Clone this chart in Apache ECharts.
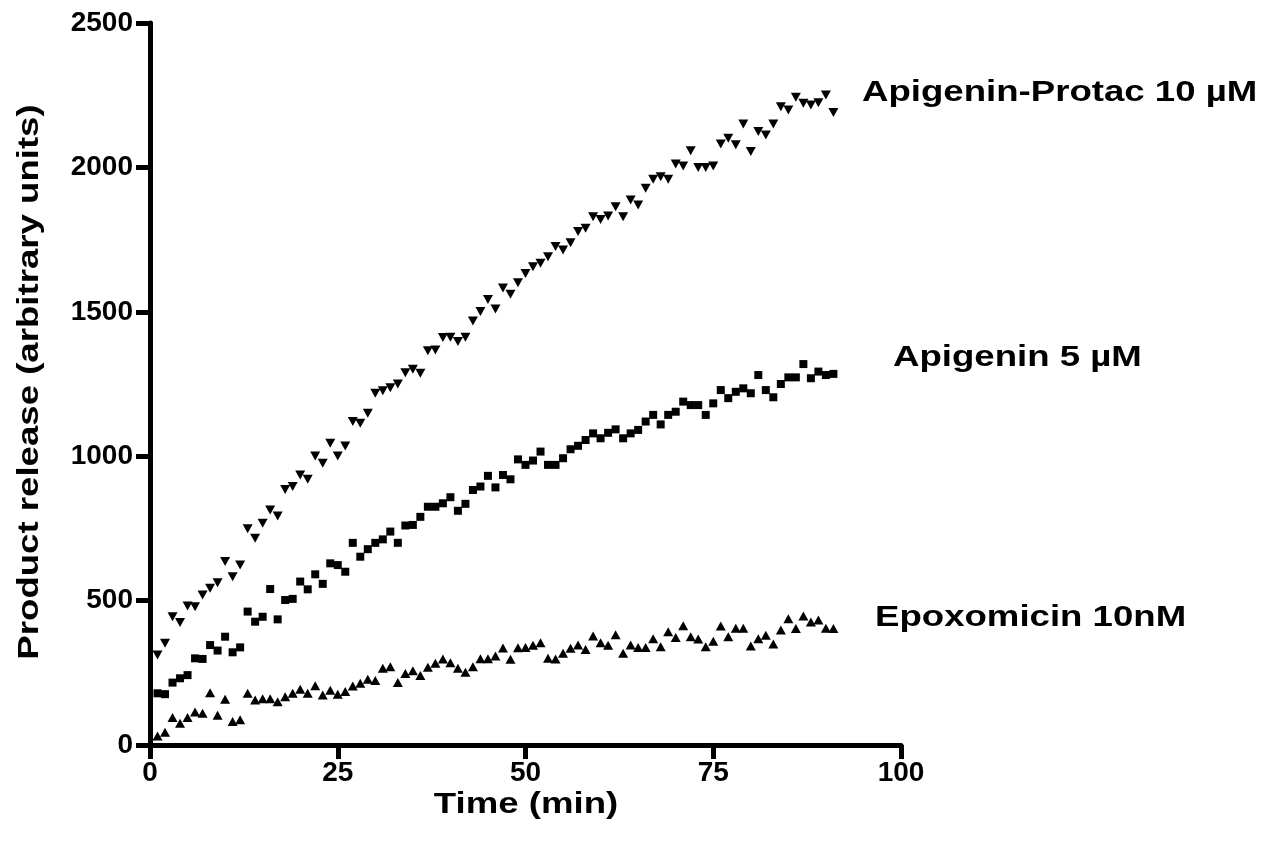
<!DOCTYPE html>
<html>
<head>
<meta charset="utf-8">
<script src="https://cdn.jsdelivr.net/npm/echarts@6/dist/echarts.min.js"></script>
<style>
  html, body { margin: 0; padding: 0; background: #fff; }
  #chart { width: 1264px; height: 846px; }
</style>
</head>
<body>
<div id="chart"></div>
<script>
// time points (min)
const minutes = [1, 2, 3, 4, 5, 6, 7, 8, 9, 10, 11, 12, 13, 14, 15, 16, 17, 18, 19, 20,
  21, 22, 23, 24, 25, 26, 27, 28, 29, 30, 31, 32, 33, 34, 35, 36, 37, 38, 39, 40,
  41, 42, 43, 44, 45, 46, 47, 48, 49, 50, 51, 52, 53, 54, 55, 56, 57, 58, 59, 60,
  61, 62, 63, 64, 65, 66, 67, 68, 69, 70, 71, 72, 73, 74, 75, 76, 77, 78, 79, 80,
  81, 82, 83, 84, 85, 86, 87, 88, 89, 90, 91];

// Apigenin-Protac 10 µM (down triangles)
const protac10 = [312, 352, 444, 424, 481, 479, 519, 543, 562, 635, 583, 623, 749, 716, 768, 814, 793, 885, 895, 935,
  920, 1001, 976, 1045, 1001, 1035, 1120, 1114, 1149, 1218, 1227, 1237, 1250, 1289, 1301, 1287, 1365, 1368, 1411, 1412,
  1397, 1412, 1468, 1501, 1543, 1510, 1582, 1561, 1601, 1633, 1656, 1668, 1691, 1726, 1714, 1739, 1778, 1789, 1829, 1820,
  1832, 1864, 1829, 1887, 1870, 1928, 1959, 1968, 1959, 2012, 2005, 2058, 2000, 2000, 2005, 2081, 2101, 2078, 2150, 2055,
  2124, 2112, 2150, 2210, 2199, 2243, 2222, 2216, 2224, 2251, 2190];

// Apigenin 5 µM (squares)
const apigenin5 = [179, 176, 216, 231, 242, 300, 298, 346, 327, 375, 321, 338, 462, 427, 444, 540, 435, 502, 506, 566,
  539, 591, 558, 629, 623, 600, 700, 652, 678, 700, 712, 739, 700, 760, 762, 790, 825, 825, 837, 858,
  811, 835, 883, 895, 932, 892, 935, 920, 989, 970, 985, 1016, 970, 970, 993, 1024, 1036, 1056, 1079, 1062,
  1081, 1093, 1062, 1079, 1091, 1120, 1143, 1110, 1143, 1154, 1189, 1177, 1177, 1143, 1183, 1229, 1201, 1223, 1235, 1218,
  1281, 1229, 1204, 1250, 1273, 1273, 1319, 1270, 1293, 1281, 1285];

// Epoxomicin 10nM (up triangles)
const epoxomicin = [31, 44, 95, 75, 95, 114, 110, 181, 103, 158, 81, 87, 179, 156, 160, 160, 150, 167, 179, 193,
  179, 205, 173, 190, 176, 185, 204, 214, 228, 223, 266, 271, 216, 248, 257, 241, 269, 283, 298, 285,
  266, 252, 271, 299, 299, 308, 336, 297, 337, 338, 345, 354, 300, 298, 318, 335, 346, 331, 377, 354,
  345, 382, 318, 346, 338, 338, 368, 340, 392, 372, 413, 375, 367, 340, 359, 412, 375, 404, 404, 343,
  368, 380, 350, 398, 437, 403, 447, 426, 433, 404, 403];

const seriesNames = ['Apigenin-Protac 10 µM', 'Apigenin 5 µM', 'Epoxomicin 10nM'];

const pairs = (ys) => minutes.map((t, i) => [t, ys[i]]);

const chart = echarts.init(document.getElementById('chart'));

const font = '"Liberation Sans", Arial, sans-serif';
const axisStyle = {
  axisLine: { show: true, lineStyle: { color: '#000', width: 5 } },
  axisTick: { show: true, length: 14, lineStyle: { color: '#000', width: 5 } },
  splitLine: { show: false },
  axisLabel: { color: '#000', fontFamily: font, fontWeight: 'bold', fontSize: 28, formatter: (v) => String(v) }
};

const bigText = (text, x, y, extra) => Object.assign({
  type: 'text',
  x: x,
  y: y,
  scaleX: 1.22,
  style: {
    text: text,
    font: 'bold 30px ' + font,
    fill: '#000',
    align: 'left',
    verticalAlign: 'middle'
  }
}, extra || {});

const dot = { color: '#000', opacity: 1 };

chart.setOption({
  animation: false,
  backgroundColor: '#fff',
  grid: { left: 150, right: 363, top: 23, bottom: 101 },
  xAxis: Object.assign({
    type: 'value',
    min: 0,
    max: 100,
    interval: 25
  }, axisStyle, {
    axisLabel: Object.assign({}, axisStyle.axisLabel, { margin: 14 })
  }),
  yAxis: Object.assign({
    type: 'value',
    min: 0,
    max: 2500,
    interval: 500
  }, axisStyle, {
    axisLabel: Object.assign({}, axisStyle.axisLabel, { margin: 17 })
  }),
  series: [
    {
      name: seriesNames[0],
      type: 'scatter',
      data: pairs(protac10),
      symbol: 'triangle',
      symbolRotate: 180,
      symbolSize: [10, 9],
      itemStyle: dot
    },
    {
      name: seriesNames[1],
      type: 'scatter',
      data: pairs(apigenin5),
      symbol: 'rect',
      symbolSize: 8,
      itemStyle: dot
    },
    {
      name: seriesNames[2],
      type: 'scatter',
      data: pairs(epoxomicin),
      symbol: 'triangle',
      symbolSize: [10, 9],
      itemStyle: dot
    }
  ],
  graphic: [
    bigText(seriesNames[0], 862, 93),
    bigText(seriesNames[1], 893, 358),
    bigText(seriesNames[2], 875, 618),
    bigText('Time (min)', 526, 805, { style: { text: 'Time (min)', font: 'bold 30px ' + font, fill: '#000', align: 'center', verticalAlign: 'middle' } }),
    bigText('Product release (arbitrary units)', 30, 382, {
      rotation: Math.PI / 2,
      style: { text: 'Product release (arbitrary units)', font: 'bold 30px ' + font, fill: '#000', align: 'center', verticalAlign: 'middle' }
    })
  ]
});

window.addEventListener('resize', () => chart.resize());
</script>
</body>
</html>
